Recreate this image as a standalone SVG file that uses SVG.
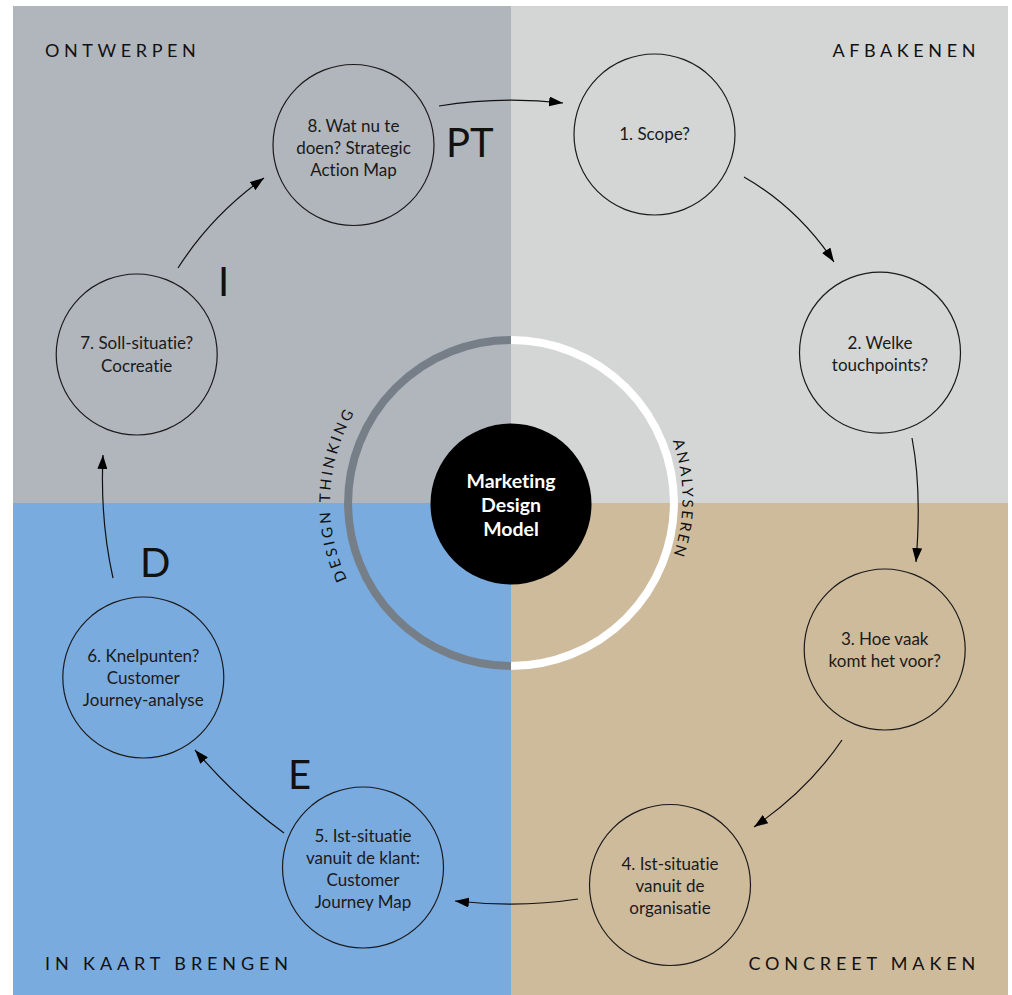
<svg xmlns="http://www.w3.org/2000/svg" width="1012" height="995" viewBox="0 0 1012 995">
<defs>
<style>
text{font-variant-ligatures:none;font-feature-settings:"liga" 0,"clig" 0,"dlig" 0}
.node{fill:none;stroke:#1a1a1a;stroke-width:1.2}
.nt{font-family:Lato,"Open Sans",sans-serif;font-size:17px;fill:#1a1a1a;text-anchor:middle}
.corner{font-family:Lato,"Open Sans",sans-serif;font-size:18px;fill:#111;letter-spacing:4.6px}
.big{font-family:Lato,"Open Sans",sans-serif;font-size:40px;fill:#111}
.arc{font-family:Lato,"Open Sans",sans-serif;font-size:15px;fill:#111;letter-spacing:3px}
.ct{font-family:Lato,"Open Sans",sans-serif;font-size:19.5px;font-weight:bold;fill:#fff;text-anchor:middle}
.conn{fill:none;stroke:#111;stroke-width:1.2;marker-end:url(#ah)}
</style>
<marker id="ah" viewBox="0 0 14 10" refX="14" refY="5" markerWidth="14" markerHeight="10" markerUnits="userSpaceOnUse" orient="auto">
<path d="M0,0 L14,5 L0,10 Z" fill="#000"/>
</marker>
<path id="arcL" d="M413.3,654.2 A179,179 0 0 1 429,342.8"/>
<path id="arcR" d="M665.7,424 A176,176 0 0 1 665.7,574"/>
</defs>
<rect x="0" y="0" width="1012" height="995" fill="#fff"/>
<rect x="13" y="6" width="498" height="497" fill="#b1b5bc"/>
<rect x="511" y="6" width="497" height="497" fill="#d3d6d5"/>
<rect x="13" y="503" width="498" height="492" fill="#7aabde"/>
<rect x="511" y="503" width="497" height="492" fill="#cebb9b"/>

<g id="ring">
<path d="M511,340 A163,163 0 0 0 511,666" fill="none" stroke="#767f88" stroke-width="8"/>
<path d="M511,340 A163,163 0 0 1 511,666" fill="none" stroke="#fff" stroke-width="8"/>
<text class="arc"><textPath href="#arcL" startOffset="50%" text-anchor="middle">DESIGN THINKING</textPath></text>
<text class="arc" style="letter-spacing:2.5px"><textPath href="#arcR" startOffset="50%" text-anchor="middle">ANALYSEREN</textPath></text>
</g>

<g id="center">
<circle cx="511" cy="504" r="80.5" fill="#000"/>
<text class="ct" x="511" y="488">Marketing</text>
<text class="ct" x="511" y="512">Design</text>
<text class="ct" x="511" y="536">Model</text>
</g>

<g id="labels">
<text class="corner" x="45" y="57">ONTWERPEN</text>
<text class="corner" x="980" y="57" text-anchor="end">AFBAKENEN</text>
<text class="corner" x="45" y="970" style="letter-spacing:4.9px">IN KAART BRENGEN</text>
<text class="corner" x="980" y="970" text-anchor="end" style="letter-spacing:4.85px">CONCREET MAKEN</text>
<text class="big" x="446" y="157">PT</text>
<text class="big" x="218" y="296">I</text>
<text class="big" x="140" y="577">D</text>
<text class="big" x="288" y="789">E</text>
</g>

<g id="n1"><circle class="node" cx="654.5" cy="134.5" r="80.5"/><text class="nt" x="654.5" y="140">1. Scope?</text></g>
<g id="n2"><circle class="node" cx="880" cy="352.7" r="80.5"/><text class="nt" x="880" y="349">2. Welke</text><text class="nt" x="880" y="371">touchpoints?</text></g>
<g id="n3"><circle class="node" cx="884.7" cy="649.5" r="80.5"/><text class="nt" x="884.7" y="645">3. Hoe vaak</text><text class="nt" x="884.7" y="667">komt het voor?</text></g>
<g id="n4"><circle class="node" cx="670" cy="885" r="80.5"/><text class="nt" x="670" y="870">4. Ist-situatie</text><text class="nt" x="670" y="892">vanuit de</text><text class="nt" x="670" y="914">organisatie</text></g>
<g id="n5"><circle class="node" cx="363" cy="867.5" r="80.5"/><text class="nt" x="363" y="842">5. Ist-situatie</text><text class="nt" x="363" y="864">vanuit de klant:</text><text class="nt" x="363" y="886">Customer</text><text class="nt" x="363" y="908">Journey Map</text></g>
<g id="n6"><circle class="node" cx="143.3" cy="677.5" r="80.5"/><text class="nt" x="143.3" y="662">6. Knelpunten?</text><text class="nt" x="143.3" y="684">Customer</text><text class="nt" x="143.3" y="706">Journey-analyse</text></g>
<g id="n7"><circle class="node" cx="136.7" cy="354.5" r="80.5"/><text class="nt" x="136.7" y="349">7. Soll-situatie?</text><text class="nt" x="136.7" y="372">Cocreatie</text></g>
<g id="n8"><circle class="node" cx="353.5" cy="145" r="80.5"/><text class="nt" x="353.5" y="132">8. Wat nu te</text><text class="nt" x="353.5" y="154">doen? Strategic</text><text class="nt" x="353.5" y="176">Action Map</text></g>

<g id="connectors">
<path class="conn" d="M439,106 Q501,96 563,103"/>
<path class="conn" d="M744,177 Q798,208 834,262"/>
<path class="conn" d="M912,438 Q922,490 916,562"/>
<path class="conn" d="M842,740 Q808,790 754,827"/>
<path class="conn" d="M578,899 Q520,908 455,901"/>
<path class="conn" d="M284,833 Q238,800 195,750"/>
<path class="conn" d="M113,578 Q100,520 103,455"/>
<path class="conn" d="M178,268 Q212,215 264,178"/>
</g>
</svg>
